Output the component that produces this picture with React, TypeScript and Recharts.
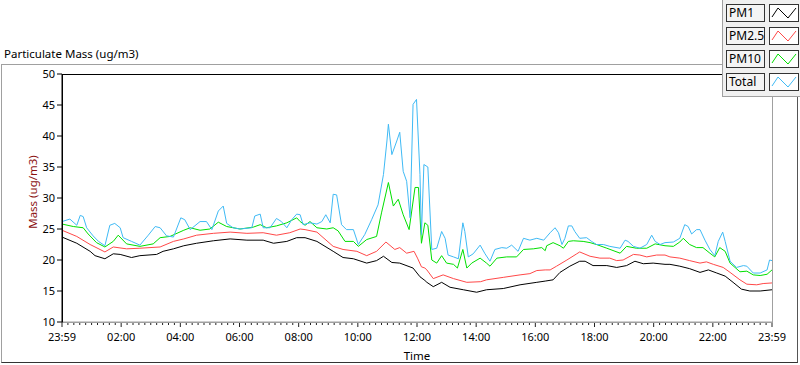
import React from 'react';
import { LineChart, Line, XAxis, YAxis } from 'recharts';

// Readings: [minutes since 23:59, ug/m3]
const pm1Readings: [number, number][] = [
  [0,23.7],[30,22.7],[57,21.4],[67,20.7],[87,20.2],[104,21.0],[118,20.9],[141,20.4],[158,20.7],[192,20.9],
  [205,21.4],[226,21.8],[247,22.3],[273,22.7],[307,23.1],[341,23.4],[375,23.2],[408,23.2],[429,22.7],[456,23.0],
  [476,23.6],[493,23.6],[517,23.0],[550,21.4],[570,20.4],[591,20.2],[618,19.5],[638,19.9],[652,20.6],[669,19.6],
  [685,19.5],[712,18.7],[726,17.3],[736,16.7],[740,16.4],[753,15.7],[770,16.4],[787,15.6],[814,15.2],[841,14.8],
  [861,15.2],[895,15.4],[929,16.0],[963,16.4],[980,16.6],[996,16.8],[1010,18.0],[1030,19.0],[1050,19.8],[1061,19.8],
  [1077,19.1],[1105,19.1],[1125,18.8],[1145,19.1],[1162,19.8],[1179,19.4],[1199,19.5],[1223,19.3],[1233,19.3],[1253,19.0],
  [1273,18.6],[1294,18.0],[1311,18.4],[1328,17.9],[1345,17.4],[1361,16.4],[1378,15.3],[1395,15.0],[1416,15.0],[1440,15.2],
];

const pm25Readings: [number, number][] = [
  [0,24.8],[30,23.8],[57,22.5],[87,21.3],[104,22.1],[131,21.8],[158,21.9],[199,22.1],[226,23.0],[247,23.4],
  [273,24.0],[307,24.3],[341,24.5],[375,24.3],[408,24.4],[435,24.0],[462,24.4],[483,25.0],[493,24.9],[517,24.5],
  [550,22.2],[570,21.7],[598,21.4],[618,20.7],[638,21.4],[657,22.9],[675,21.7],[685,22.0],[699,21.1],[714,21.4],
  [721,20.3],[729,18.9],[736,18.7],[740,18.4],[753,17.0],[773,17.6],[794,17.0],[821,16.4],[849,16.5],[861,16.8],
  [895,17.2],[929,17.6],[949,17.8],[963,18.3],[980,18.4],[990,18.4],[1003,19.0],[1024,20.0],[1044,21.0],[1050,21.3],
  [1071,20.6],[1091,20.3],[1111,20.3],[1125,19.9],[1138,20.0],[1159,20.9],[1172,20.8],[1186,20.5],[1206,20.8],[1223,20.8],
  [1233,20.5],[1253,20.3],[1273,19.9],[1294,19.5],[1307,19.7],[1321,19.3],[1341,18.8],[1355,18.0],[1375,16.8],[1389,16.1],
  [1409,16.0],[1422,16.2],[1440,16.3],
];

const pm10Readings: [number, number][] = [
  [0,25.8],[23,25.4],[43,25.2],[53,24.2],[70,22.8],[87,22.1],[104,23.0],[114,24.0],[131,22.6],[158,22.2],
  [185,22.6],[199,23.6],[219,23.8],[247,24.8],[260,25.2],[280,24.8],[300,25.0],[317,26.1],[334,25.4],[361,25.0],
  [388,25.3],[402,25.7],[415,25.2],[435,25.5],[456,26.0],[476,26.8],[483,26.2],[493,25.6],[503,26.2],[517,25.2],
  [537,25.0],[550,25.2],[560,24.7],[574,23.0],[591,23.0],[601,22.2],[618,23.3],[638,23.8],[648,27.6],[662,32.5],
  [672,28.7],[682,29.8],[692,27.3],[704,24.9],[716,31.7],[723,31.7],[729,22.7],[736,26.0],[742,25.6],[750,20.0],
  [760,19.5],[770,20.7],[780,19.5],[794,19.3],[802,18.7],[813,21.7],[821,18.7],[831,19.5],[848,20.3],[861,19.5],
  [868,19.0],[882,20.3],[902,20.5],[922,20.5],[936,21.7],[956,21.8],[973,22.0],[980,21.5],[983,22.3],[996,22.8],
  [1010,22.3],[1017,21.9],[1027,23.0],[1037,23.1],[1057,23.0],[1071,22.8],[1084,22.5],[1105,21.9],[1132,21.1],[1145,22.2],
  [1165,21.9],[1186,21.9],[1203,22.6],[1223,22.3],[1240,22.2],[1253,22.9],[1260,23.5],[1273,22.5],[1287,22.0],[1300,22.0],
  [1314,21.1],[1324,20.5],[1334,22.0],[1345,21.4],[1355,19.5],[1375,18.1],[1389,18.2],[1402,17.6],[1416,17.5],[1430,17.7],
  [1440,18.4],
];

const totalReadings: [number, number][] = [
  [0,26.2],[16,26.6],[30,25.6],[37,27.2],[43,27.0],[50,25.2],[63,23.9],[74,23.0],[87,22.3],[97,25.6],
  [107,25.9],[118,25.2],[124,23.6],[141,23.0],[158,22.4],[175,24.0],[189,25.4],[199,25.2],[212,23.9],[226,23.7],
  [241,26.8],[249,26.5],[260,24.9],[280,26.2],[293,26.2],[304,24.9],[317,27.9],[327,28.7],[334,25.9],[347,25.2],
  [361,25.0],[385,25.2],[391,27.1],[402,27.4],[408,25.2],[422,25.2],[435,26.7],[445,26.2],[456,25.2],[466,26.5],
  [476,27.4],[483,27.3],[489,25.7],[503,26.0],[517,25.8],[527,26.2],[535,27.3],[544,26.0],[550,30.6],[557,30.5],
  [567,25.7],[577,24.9],[591,24.9],[601,22.5],[614,24.1],[628,26.5],[641,28.9],[652,33.8],[659,39.2],[662,41.9],
  [669,37.0],[679,39.2],[685,40.6],[692,34.3],[699,32.7],[706,26.8],[712,45.1],[719,45.9],[726,33.8],[729,24.1],
  [734,35.4],[742,35.0],[750,21.7],[760,21.9],[770,24.6],[777,23.5],[783,20.8],[794,20.5],[804,20.2],[813,26.0],
  [817,24.6],[824,20.5],[834,21.0],[848,22.4],[858,21.0],[868,19.8],[878,21.7],[892,22.0],[902,21.9],[912,22.4],
  [925,21.4],[936,23.5],[949,23.2],[963,23.5],[977,23.2],[990,24.4],[1000,25.2],[1007,24.4],[1014,22.5],[1020,23.5],
  [1027,25.5],[1034,25.5],[1040,24.6],[1050,23.5],[1064,23.6],[1074,23.0],[1084,22.5],[1098,22.5],[1111,22.2],[1132,21.9],
  [1142,23.2],[1148,23.0],[1159,22.2],[1172,21.9],[1186,22.5],[1196,24.0],[1203,23.0],[1213,22.5],[1223,22.8],[1240,22.9],
  [1253,23.5],[1263,25.7],[1270,25.4],[1277,24.2],[1287,24.9],[1294,24.9],[1304,23.2],[1314,21.7],[1324,20.7],[1331,23.0],
  [1340,24.5],[1345,23.0],[1355,19.8],[1368,18.8],[1382,19.1],[1389,19.0],[1402,17.9],[1416,17.9],[1430,18.4],[1435,20.0],
  [1440,19.9],
];

const seriesNames = ['PM1', 'PM2.5', 'PM10', 'Total'];
const seriesColors = ['#000000', '#ff4848', '#00e000', '#3fbaf5'];
const seriesReadings = [pm1Readings, pm25Readings, pm10Readings, totalReadings];

const xMajorTicks = [0, 120, 240, 360, 480, 600, 720, 840, 960, 1080, 1200, 1320, 1440];
const xTickLabels = ['23:59', '02:00', '04:00', '06:00', '08:00', '10:00', '12:00', '14:00', '16:00', '18:00', '20:00', '22:00', '23:59'];
const xMinorStep = 12;
const yTicks = [10, 15, 20, 25, 30, 35, 40, 45, 50];

const FONT = "'Noto Sans', 'DejaVu Sans', sans-serif";

const allXTicks: number[] = [];
for (let t = 0; t <= 1440; t += xMinorStep) allXTicks.push(t);

const XTick = (props: any) => {
  const { x, y, payload } = props;
  const idx = xMajorTicks.indexOf(payload.value);
  const major = idx >= 0;
  return (
    <g>
      <line x1={x} x2={x} y1={y} y2={y + (major ? 5 : 3)} stroke="#222" strokeWidth={1} />
      {major && (
        <text x={x} y={y + 15} dy="0.355em" textAnchor="middle" fill="#000" fontSize={11} fontFamily={FONT}>
          {xTickLabels[idx]}
        </text>
      )}
    </g>
  );
};

export default function App() {
  const datasets = seriesReadings.map((r) => r.map(([t, v]) => ({ t, v })));
  return (
    <div style={{ position: 'absolute', left: 0, top: 0, width: 800, height: 365, background: '#fff', overflow: 'hidden', fontFamily: FONT }}>
      {/* outer panel frame */}
      <div style={{ position: 'absolute', left: 1, top: 64, width: 797, height: 299, boxSizing: 'border-box', borderTop: '1px solid #a0a0a0', borderLeft: '1px solid #a0a0a0', borderRight: '1px solid #555', borderBottom: '1px solid #333' }} />
      <div style={{ position: 'absolute', left: 4, top: 46, fontSize: 11.5, color: '#000', whiteSpace: 'nowrap' }}>Particulate Mass (ug/m3)</div>
      <div style={{ position: 'absolute', left: 0, top: 0 }}>
        <LineChart width={800} height={365} margin={{ top: 74, right: 28, bottom: 0, left: 0 }}>
          <XAxis
            xAxisId="main"
            dataKey="t"
            type="number"
            domain={[0, 1440]}
            ticks={allXTicks}
            interval={0}
            height={43}
            tickSize={0}
            tickMargin={0}
            tickLine={false}
            axisLine={{ stroke: '#a0a0a0' }}
            tick={<XTick />}
            allowDataOverflow
          />
          <YAxis
            yAxisId="main"
            type="number"
            domain={[10, 50]}
            ticks={yTicks}
            interval={0}
            width={62}
            tickSize={5}
            tickMargin={2}
            tickLine={{ stroke: '#000' }}
            axisLine={{ stroke: '#000' }}
            tick={{ fill: '#000', fontSize: 11, fontFamily: FONT }}
            allowDataOverflow
          />
          {datasets.map((d, i) => (
            <Line
              key={seriesNames[i]}
              xAxisId="main"
              yAxisId="main"
              data={d}
              dataKey="v"
              name={seriesNames[i]}
              type="linear"
              stroke={seriesColors[i]}
              strokeWidth={1}
              dot={false}
              activeDot={false}
              isAnimationActive={false}
            />
          ))}
        </LineChart>
      </div>
      {/* plot frame: dark top/left, light bottom/right */}
      <div style={{ position: 'absolute', left: 62, top: 74, width: 711, height: 249, boxSizing: 'border-box', borderTop: '1px solid #000', borderLeft: '1px solid #000', borderRight: '1px solid #a0a0a0', borderBottom: '1px solid #a0a0a0', pointerEvents: 'none' }} />
      <div style={{ position: 'absolute', left: 32, top: 192, transform: 'translate(-50%, -50%) rotate(-90deg)', fontSize: 11.5, color: '#8b1010', whiteSpace: 'nowrap' }}>Mass (ug/m3)</div>
      <div style={{ position: 'absolute', left: 417, top: 355, transform: 'translate(-50%, -50%)', fontSize: 11.5, color: '#000', whiteSpace: 'nowrap' }}>Time</div>
      {/* legend */}
      <div style={{ position: 'absolute', left: 722, top: 0, width: 78, height: 97, background: '#f0f0f0', boxSizing: 'border-box', borderLeft: '1px solid #a0a0a0', borderBottom: '1px solid #a0a0a0' }}>
        {seriesNames.map((name, i) => (
          <div key={name}>
            <div style={{ position: 'absolute', left: 3, top: 4 + i * 23, width: 39, height: 18, boxSizing: 'border-box', border: '1px solid #333', background: '#f4f4f4', fontSize: 12, lineHeight: '16px', paddingLeft: 2, color: '#000', whiteSpace: 'nowrap', overflow: 'hidden' }}>{name}</div>
            <svg style={{ position: 'absolute', left: 46, top: 4 + i * 23 }} width={30} height={18}>
              <rect x={0.5} y={0.5} width={29} height={17} fill="#fff" stroke="#333" />
              <polyline points="3,13 9,4 19,14 27,4" fill="none" stroke={seriesColors[i]} strokeWidth={1} />
            </svg>
          </div>
        ))}
      </div>
    </div>
  );
}
